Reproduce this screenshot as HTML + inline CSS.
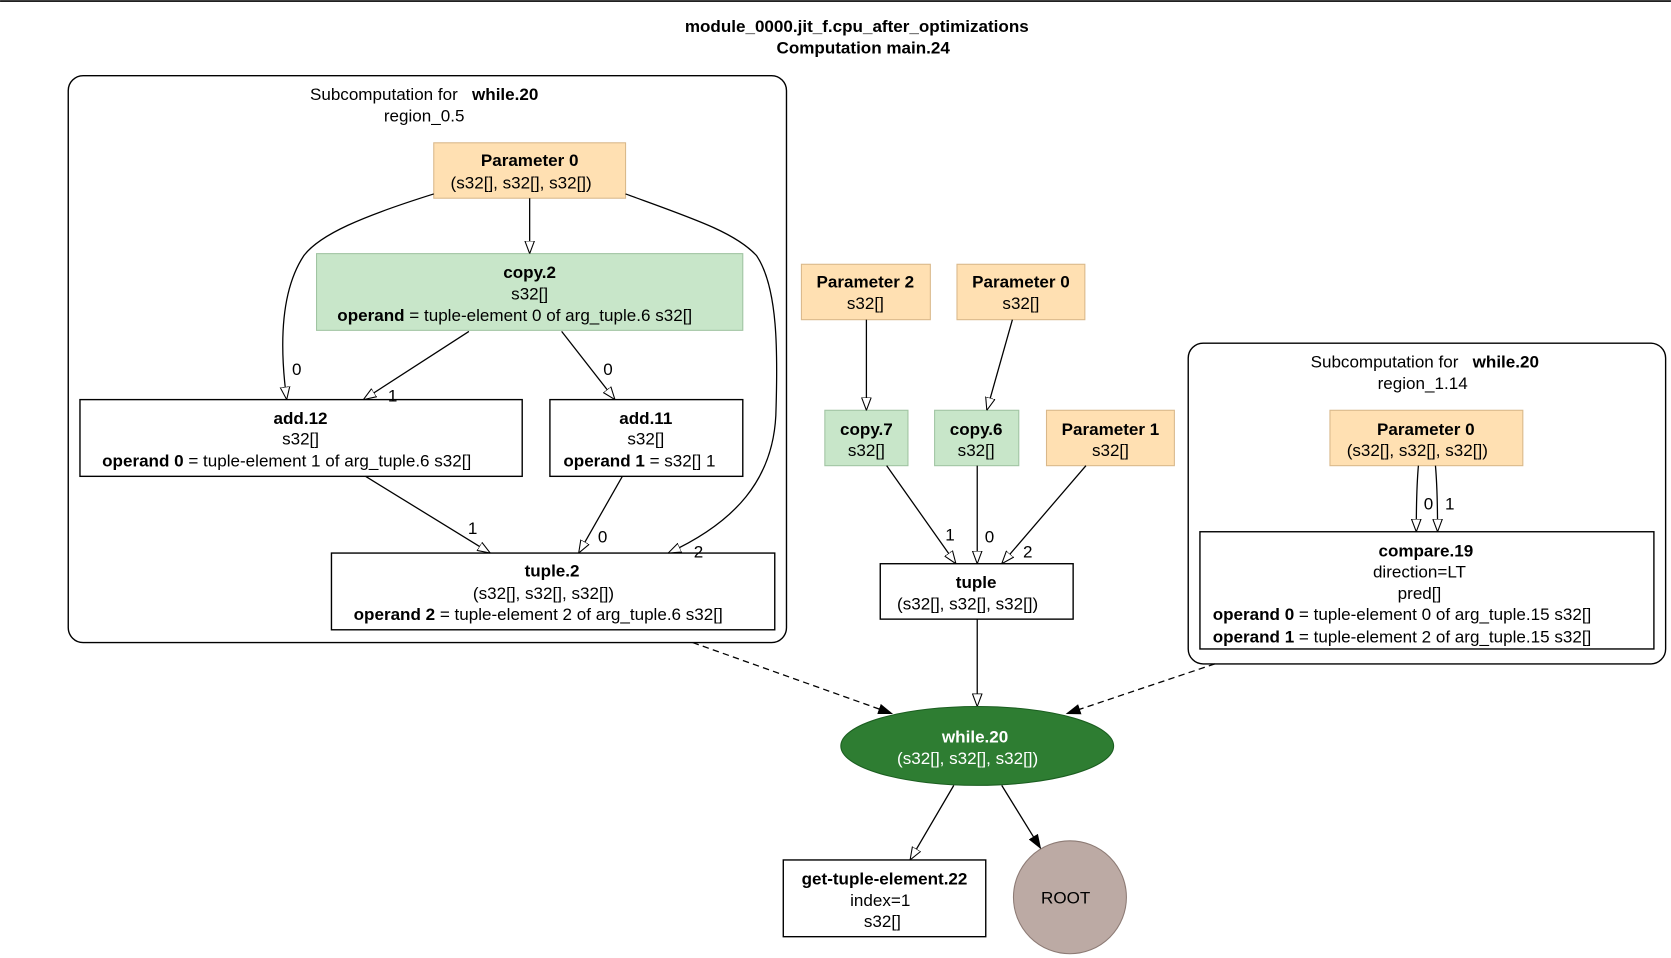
<!DOCTYPE html>
<html><head><meta charset="utf-8"><style>
html,body{margin:0;padding:0;background:#fff;}
svg{display:block;}
text{font-family:"Liberation Sans",sans-serif;font-size:16px;fill:#000;}
.b{font-weight:bold;}
.pre{white-space:pre;}
</style></head><body>
<svg width="1671" height="958" viewBox="0 0 1568 899" xmlns="http://www.w3.org/2000/svg">
<defs>
<marker id="h" viewBox="0 0 12 10" refX="12" refY="5" markerWidth="12" markerHeight="10" markerUnits="userSpaceOnUse" orient="auto">
<path d="M0,0.5 L12,5 L0,9.5 Z" fill="#fff" stroke="#000" stroke-width="1"/></marker>
<marker id="f" viewBox="0 0 14 10" refX="14" refY="5" markerWidth="14" markerHeight="10" markerUnits="userSpaceOnUse" orient="auto">
<path d="M0,0 L14,5 L0,10 Z" fill="#000"/></marker>
</defs>
<line x1="0" y1="1" x2="1568" y2="1" stroke="#000" stroke-width="1.5"/>
<text x="804" y="30" text-anchor="middle" class="b">module_0000.jit_f.cpu_after_optimizations</text>
<text x="810" y="50" text-anchor="middle" class="b">Computation main.24</text>

<!-- cluster 1 -->
<rect x="64" y="71" width="674" height="532" rx="14" fill="none" stroke="#000" stroke-width="1.3"/>
<text x="398" y="94" text-anchor="middle" class="pre" xml:space="preserve">Subcomputation for   <tspan class="b">while.20</tspan></text>
<text x="398" y="114" text-anchor="middle">region_0.5</text>

<rect x="407" y="134" width="180" height="52" fill="#ffe0b2" stroke="#d9b88a"/>
<text x="497" y="156" text-anchor="middle" class="b">Parameter 0</text>
<text x="489" y="177" text-anchor="middle">(s32[], s32[], s32[])</text>

<rect x="297" y="238" width="400" height="72" fill="#c8e6c9" stroke="#a0c4a2"/>
<text x="497" y="261" text-anchor="middle" class="b">copy.2</text>
<text x="497" y="281" text-anchor="middle">s32[]</text>
<text x="483" y="301" text-anchor="middle"><tspan class="b">operand</tspan> = tuple-element 0 of arg_tuple.6 s32[]</text>

<rect x="75" y="375" width="415" height="72" fill="#fff" stroke="#000" stroke-width="1.3"/>
<text x="282" y="398" text-anchor="middle" class="b">add.12</text>
<text x="282" y="417" text-anchor="middle">s32[]</text>
<text x="269" y="438" text-anchor="middle"><tspan class="b">operand 0</tspan> = tuple-element 1 of arg_tuple.6 s32[]</text>

<rect x="516" y="375" width="181" height="72" fill="#fff" stroke="#000" stroke-width="1.3"/>
<text x="606" y="398" text-anchor="middle" class="b">add.11</text>
<text x="606" y="417" text-anchor="middle">s32[]</text>
<text x="600" y="438" text-anchor="middle"><tspan class="b">operand 1</tspan> = s32[] 1</text>

<rect x="311" y="519" width="416" height="72" fill="#fff" stroke="#000" stroke-width="1.3"/>
<text x="518" y="541" text-anchor="middle" class="b">tuple.2</text>
<text x="510" y="562" text-anchor="middle">(s32[], s32[], s32[])</text>
<text x="505" y="582" text-anchor="middle"><tspan class="b">operand 2</tspan> = tuple-element 2 of arg_tuple.6 s32[]</text>

<g fill="none" stroke="#000" stroke-width="1.2">
<line x1="497" y1="186" x2="497" y2="238" marker-end="url(#h)"/>
<path d="M407,182 C340,203 300,220 285,240 C262,275 263,330 269,375" marker-end="url(#h)"/>
<line x1="440" y1="311" x2="341" y2="375" marker-end="url(#h)"/>
<line x1="527" y1="311" x2="577" y2="375" marker-end="url(#h)"/>
<line x1="343" y1="447" x2="460" y2="519" marker-end="url(#h)"/>
<line x1="584" y1="447" x2="543" y2="519" marker-end="url(#h)"/>
<path d="M587,182 C650,205 690,218 710,240 C730,270 730,330 728,390 C725,450 690,490 627,519" marker-end="url(#h)"/>
</g>
<text x="274" y="352">0</text>
<text x="364" y="377">1</text>
<text x="566" y="352">0</text>
<text x="439" y="501">1</text>
<text x="561" y="509">0</text>
<text x="651" y="523">2</text>

<!-- middle -->
<rect x="752" y="248" width="121" height="52" fill="#ffe0b2" stroke="#d9b88a"/>
<text x="812" y="270" text-anchor="middle" class="b">Parameter 2</text>
<text x="812" y="290" text-anchor="middle">s32[]</text>
<rect x="898" y="248" width="120" height="52" fill="#ffe0b2" stroke="#d9b88a"/>
<text x="958" y="270" text-anchor="middle" class="b">Parameter 0</text>
<text x="958" y="290" text-anchor="middle">s32[]</text>

<rect x="774" y="385" width="78" height="52" fill="#c8e6c9" stroke="#a0c4a2"/>
<text x="813" y="408" text-anchor="middle" class="b">copy.7</text>
<text x="813" y="428" text-anchor="middle">s32[]</text>
<rect x="877" y="385" width="79" height="52" fill="#c8e6c9" stroke="#a0c4a2"/>
<text x="916" y="408" text-anchor="middle" class="b">copy.6</text>
<text x="916" y="428" text-anchor="middle">s32[]</text>
<rect x="982" y="385" width="120" height="52" fill="#ffe0b2" stroke="#d9b88a"/>
<text x="1042" y="408" text-anchor="middle" class="b">Parameter 1</text>
<text x="1042" y="428" text-anchor="middle">s32[]</text>

<rect x="826" y="529" width="181" height="52" fill="#fff" stroke="#000" stroke-width="1.3"/>
<text x="916" y="552" text-anchor="middle" class="b">tuple</text>
<text x="908" y="572" text-anchor="middle">(s32[], s32[], s32[])</text>

<g fill="none" stroke="#000" stroke-width="1.2">
<line x1="813" y1="300" x2="813" y2="385" marker-end="url(#h)"/>
<line x1="950" y1="300" x2="926" y2="385" marker-end="url(#h)"/>
<line x1="832" y1="437" x2="897" y2="529" marker-end="url(#h)"/>
<line x1="917" y1="437" x2="917" y2="529" marker-end="url(#h)"/>
<line x1="1019" y1="437" x2="940" y2="529" marker-end="url(#h)"/>
<line x1="917" y1="581" x2="917" y2="663" marker-end="url(#h)"/>
</g>
<text x="887" y="507">1</text>
<text x="924" y="509">0</text>
<text x="960" y="523">2</text>

<!-- cluster 2 -->
<rect x="1115" y="322" width="448" height="301" rx="14" fill="none" stroke="#000" stroke-width="1.3"/>
<text x="1337" y="345" text-anchor="middle" class="pre" xml:space="preserve">Subcomputation for   <tspan class="b">while.20</tspan></text>
<text x="1335" y="365" text-anchor="middle">region_1.14</text>
<rect x="1248" y="385" width="181" height="52" fill="#ffe0b2" stroke="#d9b88a"/>
<text x="1338" y="408" text-anchor="middle" class="b">Parameter 0</text>
<text x="1330" y="428" text-anchor="middle">(s32[], s32[], s32[])</text>
<rect x="1126" y="499" width="426" height="110" fill="#fff" stroke="#000" stroke-width="1.3"/>
<text x="1338" y="522" text-anchor="middle" class="b">compare.19</text>
<text x="1332" y="542" text-anchor="middle">direction=LT</text>
<text x="1332" y="562" text-anchor="middle">pred[]</text>
<text x="1138" y="582"><tspan class="b">operand 0</tspan> = tuple-element 0 of arg_tuple.15 s32[]</text>
<text x="1138" y="603"><tspan class="b">operand 1</tspan> = tuple-element 2 of arg_tuple.15 s32[]</text>
<g fill="none" stroke="#000" stroke-width="1.2">
<path d="M1331,437 C1329,460 1329,480 1329,499" marker-end="url(#h)"/>
<path d="M1347,437 C1349,460 1349,480 1349,499" marker-end="url(#h)"/>
</g>
<text x="1336" y="478">0</text>
<text x="1356" y="478">1</text>

<!-- while -->
<g fill="none" stroke="#000" stroke-width="1.2" stroke-dasharray="6,4">
<line x1="650" y1="603" x2="838" y2="670" marker-end="url(#f)"/>
<line x1="1140" y1="623" x2="1000" y2="670" marker-end="url(#f)"/>
</g>
<ellipse cx="917" cy="700" rx="128" ry="37" fill="#2e7d32" stroke="#1b5e20"/>
<text x="915" y="697" text-anchor="middle" class="b" style="fill:#fff">while.20</text>
<text x="908" y="717" text-anchor="middle" style="fill:#fff">(s32[], s32[], s32[])</text>

<g fill="none" stroke="#000" stroke-width="1.2">
<line x1="895" y1="737" x2="854" y2="807" marker-end="url(#h)"/>
<line x1="940" y1="737" x2="977" y2="797" marker-end="url(#f)"/>
</g>
<rect x="735" y="807" width="190" height="72" fill="#fff" stroke="#000" stroke-width="1.3"/>
<text x="830" y="830" text-anchor="middle" class="b">get-tuple-element.22</text>
<text x="826" y="850" text-anchor="middle">index=1</text>
<text x="828" y="870" text-anchor="middle">s32[]</text>
<circle cx="1004" cy="842" r="53" fill="#bcaaa4" stroke="#8d7b75"/>
<text x="1000" y="848" text-anchor="middle">ROOT</text>
</svg>
</body></html>
